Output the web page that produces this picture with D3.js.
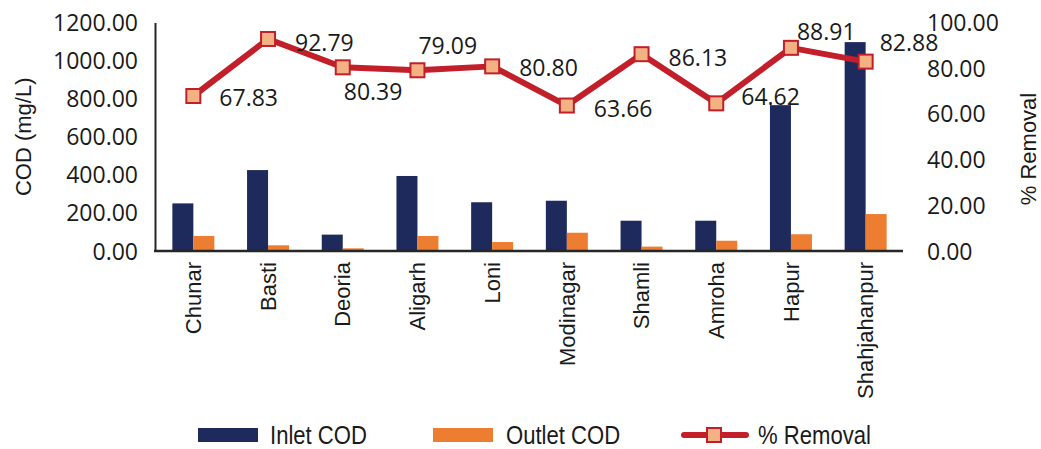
<!DOCTYPE html>
<html>
<head>
<meta charset="utf-8">
<script src="https://cdn.jsdelivr.net/npm/d3@7"></script>
<style>
  html, body { margin: 0; padding: 0; background: #fff; }
  svg { display: block; }
  .num { font-family: "Open Sans", "Noto Sans", sans-serif; font-size: 23px; fill: #1a1a1a; }
  .cat { font-family: "Liberation Sans", Arial, sans-serif; font-size: 22px; fill: #1a1a1a; }
  .ttl { font-family: "Liberation Sans", Arial, sans-serif; font-size: 22px; fill: #1a1a1a; }
  .leg { font-family: "Liberation Sans", Arial, sans-serif; font-size: 26px; fill: #1a1a1a; }
</style>
</head>
<body>
<svg id="chart" width="1041" height="449"></svg>
<script>
// Sewage treatment plants and their COD performance
const plants = ["Chunar", "Basti", "Deoria", "Aligarh", "Loni", "Modinagar", "Shamli", "Amroha", "Hapur", "Shahjahanpur"];
const inletCOD  = [250, 425, 86, 394, 256, 264, 159, 159, 766, 1097];
const outletCOD = [79, 30, 14, 79, 47, 96, 23, 54, 88, 194];
const removalPct = [67.83, 92.79, 80.39, 79.09, 80.80, 63.66, 86.13, 64.62, 88.91, 82.88];
const codTicks = [0, 200, 400, 600, 800, 1000, 1200];
const pctTicks = [0, 20, 40, 60, 80, 100];

// label nudges for the % removal values, [dx, dy] from each marker
const labelNudge = [[26, 2], [27, 4], [1, 25], [1, -24], [27, 2], [27, 3], [27, 4], [25, -6], [6, -16], [14, -19]];

const C = {
  inlet: "#1f2a5c",
  outlet: "#ed7d31",
  line: "#c21f2a",
  marker: "#f4b183",
  axis: "#262626"
};

const svg = d3.select("#chart");
const plot = { left: 156, right: 903, top: 22.5, bottom: 251 };

const x = d3.scaleBand().domain(plants).range([plot.left, plot.right]).padding(0);
const yL = d3.scaleLinear().domain([0, 1200]).range([plot.bottom, plot.top]);
const yR = d3.scaleLinear().domain([0, 100]).range([plot.bottom, plot.top]);
const barW = 21;
const cx = d => x(d) + x.bandwidth() / 2;

// left axis
const leftAxis = d3.axisLeft(yL).tickValues(codTicks).tickFormat(d3.format(".2f")).tickSize(0).tickPadding(17);
const gL = svg.append("g").attr("transform", `translate(${plot.left - 1},0)`).call(leftAxis);
gL.select(".domain").attr("stroke", C.axis).attr("stroke-width", 2);
gL.selectAll("text").attr("class", "num").attr("font-family", null).attr("font-size", null).attr("dy", "0.35em");

// right axis (labels only)
const rightAxis = d3.axisRight(yR).tickValues(pctTicks).tickFormat(d3.format(".2f")).tickSize(0).tickPadding(24);
const gR = svg.append("g").attr("transform", `translate(${plot.right},0)`).call(rightAxis);
gR.select(".domain").remove();
gR.selectAll("text").attr("class", "num").attr("font-family", null).attr("font-size", null).attr("dy", "0.35em");

// bars
const bars = svg.append("g");
bars.selectAll(".inlet").data(plants).join("rect")
  .attr("x", d => cx(d) - barW)
  .attr("width", barW)
  .attr("y", (d, i) => yL(inletCOD[i]))
  .attr("height", (d, i) => yL(0) - yL(inletCOD[i]))
  .attr("fill", C.inlet);
bars.selectAll(".outlet").data(plants).join("rect")
  .attr("x", d => cx(d))
  .attr("width", barW)
  .attr("y", (d, i) => yL(outletCOD[i]))
  .attr("height", (d, i) => yL(0) - yL(outletCOD[i]))
  .attr("fill", C.outlet);

// category axis
const bottomAxis = d3.axisBottom(x).tickSize(0).tickPadding(0);
const gB = svg.append("g").attr("transform", `translate(0,${plot.bottom})`).call(bottomAxis);
gB.select(".domain").attr("d", `M${plot.left - 2},0H${plot.right}`).attr("stroke", C.axis).attr("stroke-width", 2.5);
gB.selectAll("text")
  .attr("class", "cat").attr("font-family", null).attr("font-size", null)
  .attr("text-anchor", "end")
  .attr("transform", "translate(0,11) rotate(-90)")
  .attr("x", 0).attr("y", 0).attr("dy", "0.35em");

// % removal line with square markers
const line = d3.line().x((d, i) => cx(plants[i])).y(d => yR(d));
svg.append("path").datum(removalPct)
  .attr("d", line).attr("fill", "none")
  .attr("stroke", C.line).attr("stroke-width", 6).attr("stroke-linejoin", "round");
const mk = 14;
svg.append("g").selectAll("rect").data(removalPct).join("rect")
  .attr("x", (d, i) => cx(plants[i]) - mk / 2)
  .attr("y", d => yR(d) - mk / 2)
  .attr("width", mk).attr("height", mk)
  .attr("fill", C.marker).attr("stroke", C.line).attr("stroke-width", 2);
svg.append("g").selectAll("text").data(removalPct).join("text")
  .attr("class", "num")
  .attr("x", (d, i) => cx(plants[i]) + labelNudge[i][0])
  .attr("y", (d, i) => yR(d) + labelNudge[i][1])
  .attr("dy", "0.35em")
  .text(d => d3.format(".2f")(d));

// axis titles
svg.append("text").attr("class", "ttl")
  .attr("transform", `translate(31,${(plot.top + plot.bottom) / 2}) rotate(-90)`)
  .attr("text-anchor", "middle").text("COD (mg/L)");
svg.append("text").attr("class", "ttl")
  .attr("transform", `translate(1036,149) rotate(-90)`)
  .attr("text-anchor", "middle").text("% Removal");

// legend (condensed lettering via horizontal squeeze)
const lg = svg.append("g").attr("transform", "translate(0,435)");
const legText = (x0, label) => lg.append("g").attr("transform", `translate(${x0},0) scale(0.85,1)`)
  .append("text").attr("class", "leg").attr("dy", "0.35em").text(label);
lg.append("rect").attr("x", 198).attr("y", -7).attr("width", 60).attr("height", 14).attr("fill", C.inlet);
legText(270, "Inlet COD");
lg.append("rect").attr("x", 433).attr("y", -7).attr("width", 60).attr("height", 14).attr("fill", C.outlet);
legText(506, "Outlet COD");
lg.append("line").attr("x1", 684).attr("x2", 746).attr("y1", 0).attr("y2", 0)
  .attr("stroke", C.line).attr("stroke-width", 6).attr("stroke-linecap", "round");
lg.append("rect").attr("x", 714 - mk / 2).attr("y", -mk / 2).attr("width", mk).attr("height", mk)
  .attr("fill", C.marker).attr("stroke", C.line).attr("stroke-width", 2);
legText(758, "% Removal");
</script>
</body>
</html>
